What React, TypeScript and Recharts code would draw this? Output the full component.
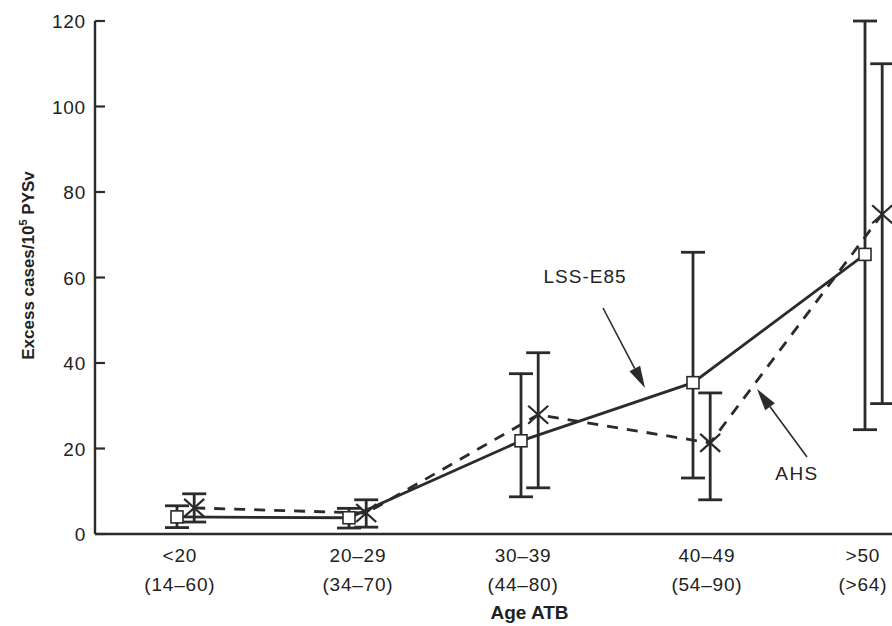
import React from "react";
import { ComposedChart, Line, XAxis, YAxis, ErrorBar, Label } from "recharts";

const categories = ["<20", "20–29", "30–39", "40–49", ">50"];
const ageRanges = ["(14–60)", "(34–70)", "(44–80)", "(54–90)", "(>64)"];
// where each category label sits on the x scale (labels are not evenly spaced in the original)
const xLabelPos = [0.017, 1.052, 2.012, 3.081, 3.988];

// LSS-E85 (solid line, squares)
const lssValues = [4.0, 3.8, 21.8, 35.4, 65.4];
const lssLow = [1.5, 1.4, 8.7, 13.1, 24.4];
const lssHigh = [6.6, 6.0, 37.5, 65.9, 120];

// AHS (dashed line, crosses)
const ahsValues = [6.1, 4.9, 27.9, 21.3, 74.8];
const ahsLow = [2.8, 1.6, 10.8, 8.0, 30.5];
const ahsHigh = [9.4, 8.0, 42.4, 33.0, 110];

const yTicks = [0, 20, 40, 60, 80, 100, 120];

const INK = "#2b2b2b";
const FONT = "'Liberation Sans', Arial, Helvetica, sans-serif";

const build = (vals: number[], lo: number[], hi: number[], shift: number) =>
  vals.map((v, i) => ({ x: i + shift, y: v, err: [v - lo[i], hi[i] - v] }));

const lssData = build(lssValues, lssLow, lssHigh, 0);
const ahsData = build(ahsValues, ahsLow, ahsHigh, 0.1);

const SquareDot = (props: any) => {
  const { cx, cy } = props;
  if (cx == null || cy == null) return null;
  return <rect x={cx - 6} y={cy - 6} width={12} height={12} fill="#fff" stroke={INK} strokeWidth={1.6} />;
};

const CrossDot = (props: any) => {
  const { cx, cy } = props;
  if (cx == null || cy == null) return null;
  const w = 10, h = 9;
  return (
    <g stroke={INK} strokeWidth={2.2}>
      <line x1={cx - w} y1={cy - h} x2={cx + w} y2={cy + h} />
      <line x1={cx - w} y1={cy + h} x2={cx + w} y2={cy - h} />
    </g>
  );
};

const YTick = (props: any) => {
  const { x, y, payload } = props;
  return (
    <g>
      <line x1={x} y1={y} x2={x + 10} y2={y} stroke={INK} strokeWidth={2.2} />
      <text x={x - 9} y={y + 7} textAnchor="end" fontSize={19} letterSpacing={0.8} fill="#222" fontFamily={FONT}>
        {payload.value}
      </text>
    </g>
  );
};

const XTick = (props: any) => {
  const { x, y, payload } = props;
  const i = Math.round(payload.value);
  return (
    <g fontSize={19} letterSpacing={0.8} fill="#222" fontFamily={FONT} textAnchor="middle">
      <text x={x} y={y + 26}>{categories[i]}</text>
      <text x={x} y={y + 55}>{ageRanges[i]}</text>
    </g>
  );
};

const YTitle = (props: any) => {
  const { viewBox } = props;
  const cx = viewBox.x + 34;
  const cy = viewBox.y + viewBox.height / 2 - 12;
  return (
    <text
      transform={`translate(${cx},${cy}) rotate(-90)`}
      textAnchor="middle"
      fontSize={17}
      fontWeight="bold"
      fill="#222"
      fontFamily={FONT}
    >
      Excess cases/10<tspan dy={-7} fontSize={11}>5</tspan>
      <tspan dy={7}> PYSv</tspan>
    </text>
  );
};

const Arrow = ({ x1, y1, x2, y2 }: { x1: number; y1: number; x2: number; y2: number }) => {
  const a = Math.atan2(y2 - y1, x2 - x1);
  const len = 22, half = 6;
  const bx = x2 - len * Math.cos(a), by = y2 - len * Math.sin(a);
  const px = -Math.sin(a) * half, py = Math.cos(a) * half;
  return (
    <g>
      <line x1={x1} y1={y1} x2={bx} y2={by} stroke={INK} strokeWidth={1.6} />
      <polygon points={`${x2},${y2} ${bx + px},${by + py} ${bx - px},${by - py}`} fill={INK} />
    </g>
  );
};

export default function App() {
  return (
    <div style={{ position: "absolute", left: 0, top: 0, width: 892, height: 626, background: "#fff" }}>
      <ComposedChart width={892} height={626} margin={{ top: 21, right: 0, bottom: 0, left: 0 }}>
        <XAxis
          type="number"
          dataKey="x"
          domain={[-0.4767, 4.157]}
          ticks={xLabelPos}
          allowDataOverflow
          tick={<XTick />}
          tickLine={false}
          tickSize={0}
          height={92}
          axisLine={{ stroke: INK, strokeWidth: 2.4 }}
        >
          <Label
            value="Age ATB"
            position="insideBottom"
            offset={7}
            dx={36}
            style={{ fontWeight: "bold", fontSize: 19, fill: "#222", fontFamily: FONT }}
          />
        </XAxis>
        <YAxis
          type="number"
          domain={[0, 120]}
          ticks={yTicks}
          allowDataOverflow
          width={95}
          tick={<YTick />}
          tickLine={false}
          tickSize={0}
          tickMargin={0}
          axisLine={{ stroke: INK, strokeWidth: 2.4 }}
        >
          <Label content={<YTitle />} />
        </YAxis>
        <Line
          data={lssData}
          dataKey="y"
          stroke={INK}
          strokeWidth={2.8}
          dot={<SquareDot />}
          activeDot={false}
          isAnimationActive={false}
        >
          <ErrorBar dataKey="err" direction="y" width={12} stroke={INK} strokeWidth={2.8} />
        </Line>
        <Line
          data={ahsData}
          dataKey="y"
          stroke={INK}
          strokeWidth={2.8}
          strokeDasharray="11 9"
          dot={<CrossDot />}
          activeDot={false}
          isAnimationActive={false}
        >
          <ErrorBar dataKey="err" direction="y" width={12} stroke={INK} strokeWidth={2.8} />
        </Line>
      </ComposedChart>
      <svg
        width={892}
        height={626}
        style={{ position: "absolute", left: 0, top: 0, pointerEvents: "none" }}
      >
        <text x={585} y={283} textAnchor="middle" fontSize={19} letterSpacing={1} fill="#222" fontFamily={FONT}>
          LSS-E85
        </text>
        <Arrow x1={603} y1={308} x2={645} y2={388} />
        <text x={797} y={480} textAnchor="middle" fontSize={19} letterSpacing={1.5} fill="#222" fontFamily={FONT}>
          AHS
        </text>
        <Arrow x1={807} y1={457} x2={757} y2={389} />
      </svg>
    </div>
  );
}
